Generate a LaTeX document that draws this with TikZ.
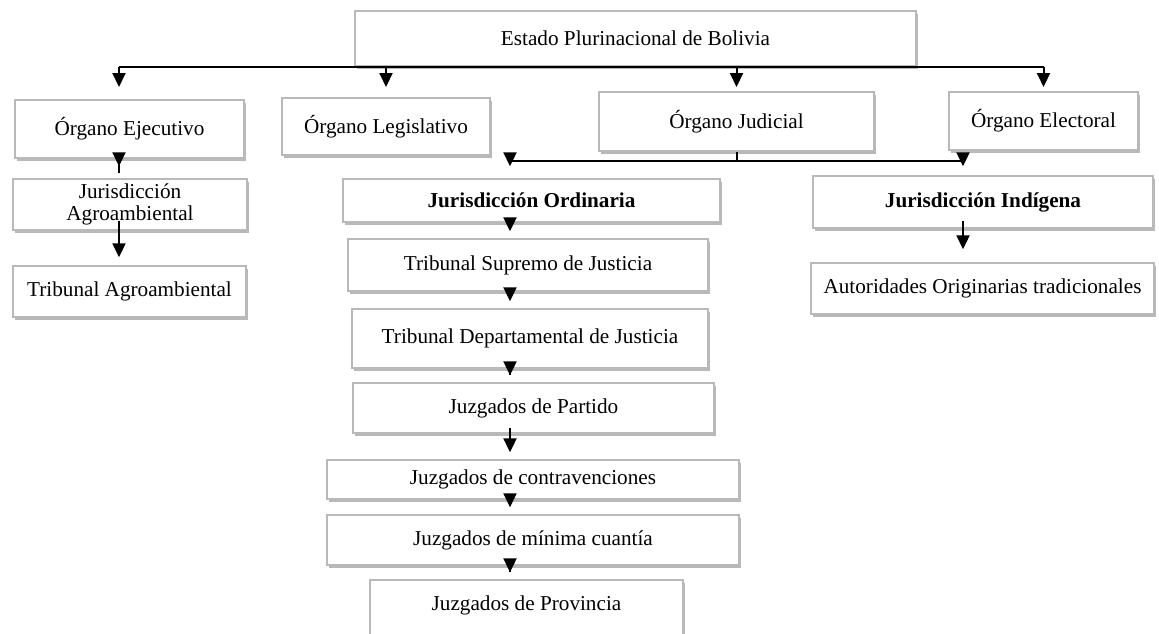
\documentclass[tikz,border=0pt]{standalone}
\usepackage{fontspec}
\setmainfont{Liberation Serif}
\usetikzlibrary{arrows.meta,shadows}
\tikzset{
  box/.style={draw=gray!55, line width=0.7pt, fill=white, inner sep=0pt, align=center,
    font=\fontsize{10.6}{11.2}\selectfont,
    drop shadow={shadow xshift=0.9pt, shadow yshift=-1.6pt, fill=black, opacity=0.28}},
  arr/.style={line width=1pt, -{Triangle[width=6.5pt,length=7pt]}},
  bus/.style={line width=1pt},
}
\begin{document}
\begin{tikzpicture}[x=0.5pt,y=-0.5pt]
\useasboundingbox (0,0) rectangle (1159,633);
% boxes
\node[box, minimum width=280.5pt, minimum height=27.5pt] (estado) at (635.5,38.5) {Estado Plurinacional de Bolivia};
\node[box, minimum width=114.5pt, minimum height=29pt] (ejec) at (129.5,129) {Órgano Ejecutivo};
\node[box, minimum width=104pt, minimum height=28.5pt] (legis) at (386,126.5) {Órgano Legislativo};
\node[box, minimum width=137.5pt, minimum height=29.5pt] (judic) at (736.5,121.5) {Órgano Judicial};
\node[box, minimum width=94.5pt, minimum height=29pt] (elect) at (1043.5,121) {Órgano Electoral};
\node[box, minimum width=117pt, minimum height=25.5pt] (agro) at (130,204.5) {Jurisdicción\\Agroambiental};
\node[box, minimum width=116.5pt, minimum height=25.5pt] (tagro) at (129.5,291.5) {Tribunal Agroambiental};
\node[box, minimum width=188.5pt, minimum height=21.5pt] (ordin) at (531.5,200.5) {\textbf{Jurisdicción Ordinaria}};
\node[box, minimum width=180pt, minimum height=26pt] (supremo) at (528,265) {Tribunal Supremo de Justicia};
\node[box, minimum width=178pt, minimum height=29.5pt] (depto) at (530,338.5) {Tribunal Departamental de Justicia};
\node[box, minimum width=180.5pt, minimum height=25pt] (partido) at (533.5,408) {Juzgados de Partido};
\node[box, minimum width=206pt, minimum height=19.5pt] (contra) at (533,479.5) {Juzgados de contravenciones};
\node[box, minimum width=206pt, minimum height=25pt] (minima) at (533,540) {Juzgados de mínima cuantía};
\node[box, minimum width=156.5pt, minimum height=30pt, text depth=0pt] (provin) at (526.5,610) {\raisebox{7pt}{Juzgados de Provincia}};
\node[box, minimum width=170pt, minimum height=26pt] (indig) at (983,202) {\textbf{Jurisdicción Indígena}};
\node[box, minimum width=171.5pt, minimum height=25.5pt] (autor) at (982.5,288.5) {Autoridades Originarias tradicionales};
% axes of the vertical chains
\coordinate (eaxis) at (119,0);
\coordinate (axis) at (510,0);
\coordinate (iaxis) at (963,0);
\coordinate (tiprow) at (0,87);
% first level
\draw[bus] (estado.south -| eaxis) -- (estado.south -| elect.north);
\draw[arr] (estado.south -| eaxis) -- (tiprow -| eaxis);
\foreach \n in {legis,judic,elect}{
	\draw[arr] (estado.south -| \n.north) -- (tiprow -| \n.north);
}
% ejecutivo branch
\draw[arr, shorten <=-7pt, shorten >=6pt] (ejec.south -| eaxis) -- (agro.north -| eaxis);
\draw[arr, shorten <=-5pt, shorten >=4pt] (agro.south -| eaxis) -- (tagro.north -| eaxis);
% judicial branch
\draw[bus] (judic.south) -- ++(0,9) coordinate (jbus);
\draw[bus] (jbus -| axis) -- (jbus -| iaxis);
\draw[arr, shorten >=6pt] (jbus -| axis) -- (ordin.north -| axis);
\draw[arr, shorten >=4.5pt] (jbus -| iaxis) -- (indig.north -| iaxis);
\foreach \a/\b in {ordin/supremo,supremo/depto,depto/partido,partido/contra,contra/minima,minima/provin}{
	\draw[arr, shorten <=-3pt, shorten >=3.5pt] (\a.south -| axis) -- (\b.north -| axis);
}
\draw[arr, shorten <=-4pt, shorten >=6.5pt] (indig.south -| iaxis) -- (autor.north -| iaxis);
\end{tikzpicture}
\end{document}
